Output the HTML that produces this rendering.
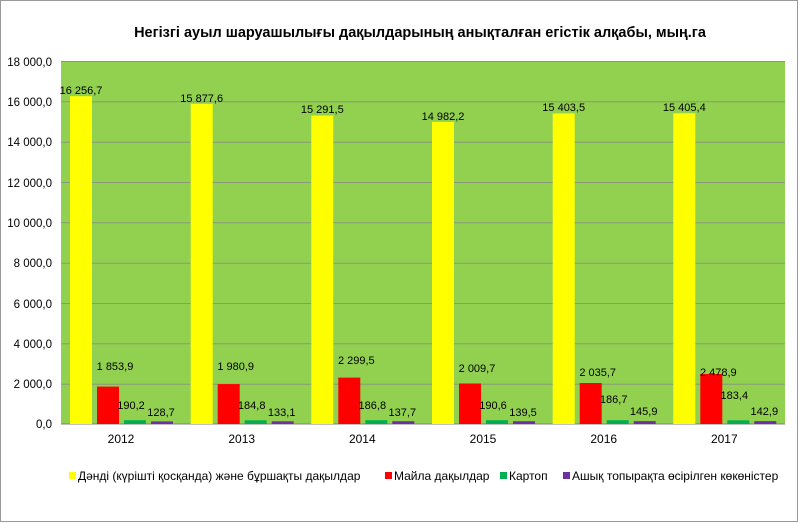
<!DOCTYPE html>
<html><head><meta charset="utf-8"><style>
html,body{margin:0;padding:0;background:#fff;}
svg{display:block;font-family:"Liberation Sans",Arial,sans-serif;}
</style></head><body>
<svg width="800" height="524" viewBox="0 0 800 524">
<rect x="0.5" y="0.5" width="797" height="521" fill="#fff" stroke="#9a9a9a"/>
<text x="420" y="37" text-anchor="middle" font-size="14.5" font-weight="bold" fill="#000">Негізгі ауыл шаруашылығы дақылдарының анықталған егістік алқабы, мың.га</text>
<rect x="61" y="61" width="724" height="363" fill="#92d050"/>
<g stroke="#8a9a78" stroke-width="1">
<line x1="61" x2="785" y1="61.5" y2="61.5"/>
<line x1="61" x2="785" y1="101.8" y2="101.8"/>
<line x1="61" x2="785" y1="142.2" y2="142.2"/>
<line x1="61" x2="785" y1="182.5" y2="182.5"/>
<line x1="61" x2="785" y1="222.8" y2="222.8"/>
<line x1="61" x2="785" y1="263.2" y2="263.2"/>
<line x1="61" x2="785" y1="303.5" y2="303.5"/>
<line x1="61" x2="785" y1="343.8" y2="343.8"/>
<line x1="61" x2="785" y1="384.2" y2="384.2"/>
<line x1="61" x2="785" y1="424" y2="424" stroke="#808080"/>
</g>
<g font-size="11.5" fill="#000" text-anchor="end">
<text x="52" y="66">18 000,0</text>
<text x="52" y="106">16 000,0</text>
<text x="52" y="146">14 000,0</text>
<text x="52" y="187">12 000,0</text>
<text x="52" y="227">10 000,0</text>
<text x="52" y="267">8 000,0</text>
<text x="52" y="308">6 000,0</text>
<text x="52" y="348">4 000,0</text>
<text x="52" y="388">2 000,0</text>
<text x="52" y="428">0,0</text>
</g>
<g>
<rect x="70" y="96.2" width="22" height="327.8" fill="#ffff00"/>
<rect x="97" y="386.6" width="22" height="37.4" fill="#ff0000"/>
<rect x="124" y="420.2" width="22" height="3.8" fill="#00b050"/>
<rect x="151" y="421.4" width="22" height="2.6" fill="#7030a0"/>
<rect x="190.7" y="103.8" width="22" height="320.2" fill="#ffff00"/>
<rect x="217.7" y="384.1" width="22" height="39.9" fill="#ff0000"/>
<rect x="244.7" y="420.3" width="22" height="3.7" fill="#00b050"/>
<rect x="271.7" y="421.3" width="22" height="2.7" fill="#7030a0"/>
<rect x="311.3" y="115.6" width="22" height="308.4" fill="#ffff00"/>
<rect x="338.3" y="377.6" width="22" height="46.4" fill="#ff0000"/>
<rect x="365.3" y="420.2" width="22" height="3.8" fill="#00b050"/>
<rect x="392.3" y="421.2" width="22" height="2.8" fill="#7030a0"/>
<rect x="432" y="121.9" width="22" height="302.1" fill="#ffff00"/>
<rect x="459" y="383.5" width="22" height="40.5" fill="#ff0000"/>
<rect x="486" y="420.2" width="22" height="3.8" fill="#00b050"/>
<rect x="513" y="421.2" width="22" height="2.8" fill="#7030a0"/>
<rect x="552.7" y="113.4" width="22" height="310.6" fill="#ffff00"/>
<rect x="579.7" y="383" width="22" height="41" fill="#ff0000"/>
<rect x="606.7" y="420.2" width="22" height="3.8" fill="#00b050"/>
<rect x="633.7" y="421.1" width="22" height="2.9" fill="#7030a0"/>
<rect x="673.3" y="113.3" width="22" height="310.7" fill="#ffff00"/>
<rect x="700.3" y="374" width="22" height="50" fill="#ff0000"/>
<rect x="727.3" y="420.3" width="22" height="3.7" fill="#00b050"/>
<rect x="754.3" y="421.1" width="22" height="2.9" fill="#7030a0"/>
</g>
<g font-size="11" fill="#000" text-anchor="middle">
<text x="81" y="94">16 256,7</text><text x="115" y="370">1 853,9</text><text x="131" y="409">190,2</text><text x="161" y="416">128,7</text>
<text x="201.7" y="102">15 877,6</text><text x="235.7" y="370">1 980,9</text><text x="251.7" y="409">184,8</text><text x="281.7" y="416">133,1</text>
<text x="322.3" y="113">15 291,5</text><text x="356.3" y="364">2 299,5</text><text x="372.3" y="409">186,8</text><text x="402.3" y="416">137,7</text>
<text x="443" y="120">14 982,2</text><text x="477" y="372">2 009,7</text><text x="493" y="409">190,6</text><text x="523" y="416">139,5</text>
<text x="563.7" y="111">15 403,5</text><text x="597.7" y="376">2 035,7</text><text x="613.7" y="403">186,7</text><text x="643.7" y="415">145,9</text>
<text x="684.3" y="111">15 405,4</text><text x="718.3" y="376">2 478,9</text><text x="734.3" y="399">183,4</text><text x="764.3" y="415">142,9</text>
</g>
<g font-size="12" fill="#000" text-anchor="middle">
<text x="121" y="443">2012</text><text x="241.7" y="443">2013</text><text x="362.3" y="443">2014</text>
<text x="483" y="443">2015</text><text x="603.7" y="443">2016</text><text x="724.3" y="443">2017</text>
</g>
<g font-size="12" fill="#000">
<rect x="69" y="472" width="7" height="7" fill="#ffff00"/><text x="78" y="480">Дәнді (күрішті қосқанда) және бұршақты дақылдар</text>
<rect x="385" y="472" width="7" height="7" fill="#ff0000"/><text x="394" y="480">Майла дақылдар</text>
<rect x="500" y="472" width="7" height="7" fill="#00b050"/><text x="509" y="480">Картоп</text>
<rect x="563" y="472" width="7" height="7" fill="#7030a0"/><text x="572" y="480">Ашық топырақта өсірілген көкөністер</text>
</g>
</svg>
</body></html>
